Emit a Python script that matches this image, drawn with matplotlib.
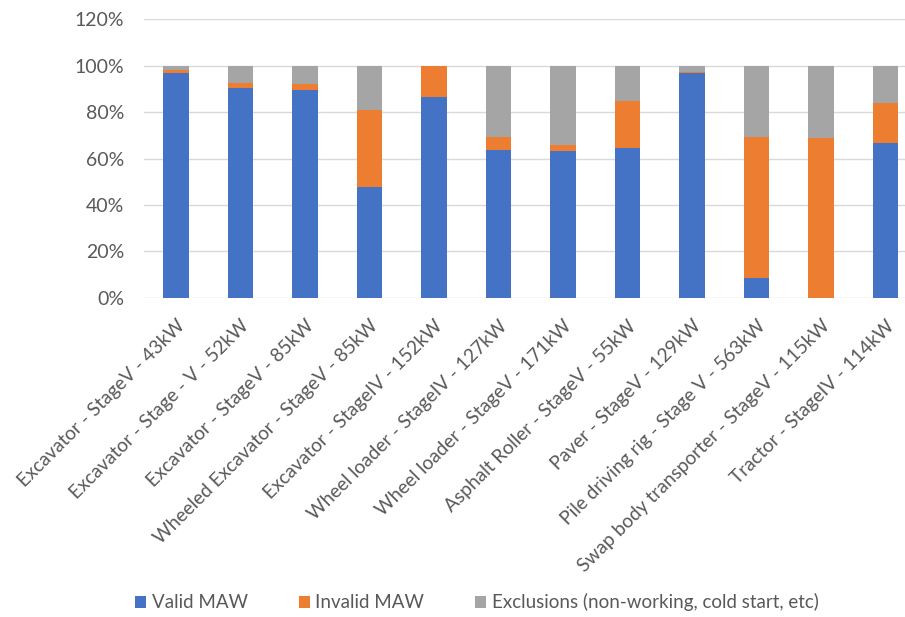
import matplotlib.pyplot as plt
from matplotlib.ticker import PercentFormatter
import numpy as np

machines = [
    "Excavator - StageV - 43kW",
    "Excavator - Stage - V - 52kW",
    "Excavator - StageV - 85kW",
    "Wheeled Excavator - StageV - 85kW",
    "Excavator - StageIV - 152kW",
    "Wheel loader - StageIV - 127kW",
    "Wheel loader - StageV - 171kW",
    "Asphalt Roller - StageV - 55kW",
    "Paver - StageV - 129kW",
    "Pile driving rig - Stage V - 563kW",
    "Swap body transporter - StageV - 115kW",
    "Tractor - StageIV - 114kW",
]
valid_maw = [97.0, 90.5, 89.7, 47.8, 86.5, 63.5, 63.1, 64.4, 97.0, 8.6, 0.0, 66.7]
invalid_maw = [1.3, 2.0, 2.5, 33.1, 13.5, 5.6, 2.7, 20.4, 0.4, 60.5, 68.7, 17.4]
exclusions = [1.7, 7.5, 7.8, 19.1, 0.0, 30.9, 34.2, 15.2, 2.6, 30.9, 31.3, 15.9]

BLUE = "#4472C4"
ORANGE = "#ED7D31"
GREY = "#A5A5A5"
TEXT = "#595959"

plt.rcParams["font.family"] = ["Lato", "DejaVu Sans"]

fig = plt.figure(figsize=(9.05, 6.17), dpi=100)
ax = fig.add_axes([0.1588, 0.5175, 0.8552, 0.4512])

x = np.arange(len(machines))
width = 0.40
valid = np.array(valid_maw)
invalid = np.array(invalid_maw)
excl = np.array(exclusions)

ax.bar(x, valid, width, color=BLUE, label="Valid MAW", zorder=3)
ax.bar(x, invalid, width, bottom=valid, color=ORANGE, label="Invalid MAW", zorder=3)
ax.bar(x, excl, width, bottom=valid + invalid, color=GREY,
       label="Exclusions (non-working, cold start, etc)", zorder=3)

ax.set_xlim(-0.5, len(machines) - 0.5)
ax.set_ylim(0, 120)
ax.set_yticks(np.arange(0, 121, 20))
ax.yaxis.set_major_formatter(PercentFormatter(decimals=0))
ax.grid(axis="y", color="#D9D9D9", linewidth=1.0, zorder=0)
for spine in ax.spines.values():
    spine.set_visible(False)

ax.tick_params(axis="both", length=0, colors=TEXT)
ax.tick_params(axis="y", labelsize=14, pad=14)
ax.set_xticks(x)
ax.set_xticklabels(machines, rotation=45, ha="right", va="top",
                   rotation_mode="anchor", fontsize=13.8, color=TEXT)
ax.tick_params(axis="x", pad=14)

fig.legend(loc="center", bbox_to_anchor=(0.527, 0.024), ncol=3, frameon=False,
           fontsize=13.5, labelcolor=TEXT, handlelength=0.6, handleheight=0.6,
           handletextpad=0.3, columnspacing=2.7)

fig.savefig("out.png", dpi=100)
